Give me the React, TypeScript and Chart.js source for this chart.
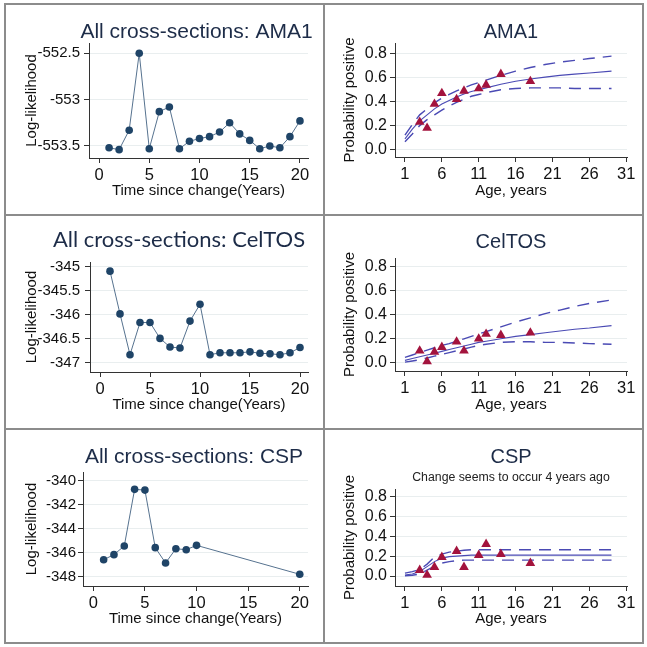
import React, { useEffect, useRef } from "react";
import { Chart, registerables } from "chart.js";
Chart.register(...registerables);

// ---------- Log-likelihood profiles (left column) ----------
const YEARS_ALL = [1, 2, 3, 4, 5, 6, 7, 8, 9, 10, 11, 12, 13, 14, 15, 16, 17, 18, 19, 20];
const LL_AMA1 = [-553.52, -553.54, -553.33, -552.5, -553.53, -553.13, -553.08, -553.53, -553.45, -553.42, -553.4, -553.35, -553.25, -553.37, -553.44, -553.53, -553.5, -553.52, -553.4, -553.23];
const LL_CELTOS = [-345.09, -345.98, -346.83, -346.16, -346.16, -346.49, -346.67, -346.69, -346.13, -345.78, -346.83, -346.79, -346.79, -346.79, -346.77, -346.8, -346.81, -346.83, -346.79, -346.68];
const YEARS_CSP = [1, 2, 3, 4, 5, 6, 7, 8, 9, 10, 20];
const LL_CSP = [-346.57, -346.15, -345.43, -340.74, -340.8, -345.57, -346.84, -345.66, -345.74, -345.38, -347.78];
const LL_TICKS_AMA1 = [-553.5, -553, -552.5];
const LL_TICKS_CELTOS = [-347, -346.5, -346, -345.5, -345];
const LL_TICKS_CSP = [-348, -346, -344, -342, -340];
const YEAR_TICKS = [0, 5, 10, 15, 20];

// ---------- Seroprevalence by age (right column) ----------
const AGE_OBS = [3, 4, 5, 6, 8, 9, 11, 12, 14, 18];
const OBS_AMA1 = [0.23, 0.18, 0.38, 0.47, 0.42, 0.49, 0.51, 0.54, 0.63, 0.57];
const OBS_CELTOS = [0.1, 0.01, 0.09, 0.13, 0.175, 0.1, 0.2, 0.24, 0.23, 0.25];
const OBS_CSP = [0.06, 0.01, 0.09, 0.19, 0.25, 0.09, 0.21, 0.32, 0.22, 0.13];

const AGE_FIT = [1, 2, 3, 4, 5, 6, 7, 8, 9, 10, 11, 12, 14, 16, 18, 20, 22, 24, 26, 29];
const FIT_AMA1 = [0.09, 0.17, 0.24, 0.29, 0.34, 0.38, 0.41, 0.44, 0.465, 0.485, 0.5, 0.515, 0.545, 0.57, 0.59, 0.605, 0.62, 0.63, 0.64, 0.655];
const UP_AMA1 = [0.12, 0.21, 0.29, 0.34, 0.39, 0.43, 0.46, 0.49, 0.515, 0.54, 0.56, 0.58, 0.62, 0.655, 0.685, 0.71, 0.73, 0.745, 0.76, 0.78];
const LO_AMA1 = [0.065, 0.13, 0.2, 0.25, 0.29, 0.33, 0.365, 0.395, 0.42, 0.445, 0.46, 0.475, 0.5, 0.51, 0.515, 0.515, 0.515, 0.51, 0.51, 0.51];

const FIT_CELTOS = [0.02, 0.035, 0.05, 0.065, 0.08, 0.095, 0.11, 0.125, 0.14, 0.155, 0.17, 0.18, 0.2, 0.22, 0.235, 0.25, 0.265, 0.28, 0.29, 0.31];
const UP_CELTOS = [0.045, 0.065, 0.085, 0.105, 0.125, 0.145, 0.16, 0.18, 0.2, 0.22, 0.24, 0.26, 0.3, 0.34, 0.375, 0.41, 0.44, 0.47, 0.495, 0.525];
const LO_CELTOS = [0.005, 0.015, 0.025, 0.04, 0.055, 0.07, 0.085, 0.1, 0.115, 0.13, 0.145, 0.155, 0.17, 0.175, 0.175, 0.17, 0.17, 0.165, 0.16, 0.155];

const FIT_CSP = [0.01, 0.02, 0.045, 0.095, 0.145, 0.18, 0.195, 0.2, 0.205, 0.21, 0.21, 0.21, 0.21, 0.21, 0.21, 0.21, 0.21, 0.21, 0.21, 0.21];
const UP_CSP = [0.03, 0.045, 0.065, 0.12, 0.19, 0.22, 0.24, 0.25, 0.26, 0.265, 0.265, 0.265, 0.265, 0.265, 0.265, 0.265, 0.265, 0.265, 0.265, 0.265];
const LO_CSP = [0.003, 0.008, 0.02, 0.06, 0.1, 0.13, 0.145, 0.155, 0.16, 0.16, 0.16, 0.16, 0.16, 0.16, 0.16, 0.16, 0.16, 0.16, 0.16, 0.16];

const PROB_TICKS = [0, 0.2, 0.4, 0.6, 0.8];
const AGE_TICKS = [1, 6, 11, 16, 21, 26, 31];

// ---------- styles ----------
const FONT = "'Liberation Sans', Arial, sans-serif";
const TITLE_COLOR = "#1d2c48";
const AXIS = "#333333";
const GRID = "#e9eeef";
const NAVY = "#1f4467";
const LL_LINE = "#56728f";
const MAROON = "#a3133d";
const BLUE = "#4a4ab4";

const pts = (xs: number[], ys: number[]) => xs.map((x, i) => ({ x, y: ys[i] }));

const llDatasets = (xs: number[], ys: number[]) => [
  {
    data: pts(xs, ys),
    showLine: true,
    borderColor: LL_LINE,
    borderWidth: 1,
    pointRadius: 3.8,
    pointBackgroundColor: NAVY,
    pointBorderColor: NAVY,
    pointBorderWidth: 0,
  },
];

const probDatasets = (obs: number[], fit: number[], up: number[], lo: number[]) => [
  {
    data: pts(AGE_OBS, obs),
    showLine: false,
    pointStyle: "triangle",
    pointRadius: 5.6,
    pointBackgroundColor: MAROON,
    pointBorderColor: MAROON,
    pointBorderWidth: 0,
  },
  { data: pts(AGE_FIT, fit), showLine: true, borderColor: BLUE, borderWidth: 1.1, pointRadius: 0 },
  { data: pts(AGE_FIT, up), showLine: true, borderColor: BLUE, borderWidth: 1.4, borderDash: [12, 8], pointRadius: 0 },
  { data: pts(AGE_FIT, lo), showLine: true, borderColor: BLUE, borderWidth: 1.4, borderDash: [12, 8], pointRadius: 0 },
];

type Spec = {
  x: number; y: number; w: number; h: number;
  title: string; titleFamily: string; titleSize: number; titleX?: number; titleY: number;
  subtitle?: string; subY?: number; subSize?: number;
  padTop: number; padRight: number; yWidth: number; xHeight: number;
  xMin: number; xMax: number; xTicks: number[];
  yMin: number; yMax: number; yTicks: number[]; yFmt: (v: number) => string;
  yTickSize: number; yTickPad: number; yTitle: string; yTitlePad: number;
  xTitle: string; datasets: any[];
};

function Panel({ s }: { s: Spec }) {
  const ref = useRef<HTMLCanvasElement>(null);
  useEffect(() => {
    const titlePlugin = {
      id: "panelTitle",
      afterDraw(chart: any) {
        const ctx = chart.ctx;
        const ca = chart.chartArea;
        ctx.save();
        ctx.fillStyle = TITLE_COLOR;
        ctx.textAlign = "center";
        ctx.textBaseline = "middle";
        ctx.font = `${s.titleSize}px ${s.titleFamily}`;
        const cx = s.titleX ?? (ca.left + ca.right) / 2;
        ctx.fillText(s.title, cx, s.titleY);
        if (s.subtitle) {
          ctx.fillStyle = "#222";
          ctx.font = `${s.subSize}px ${FONT}`;
          ctx.fillText(s.subtitle, (ca.left + ca.right) / 2, s.subY);
        }
        ctx.restore();
      },
    };
    const chart = new Chart(ref.current as HTMLCanvasElement, {
      type: "scatter",
      data: { datasets: s.datasets },
      options: {
        animation: false,
        responsive: false,
        devicePixelRatio: 1,
        layout: { padding: { top: s.padTop, right: s.padRight, left: 0, bottom: 0 } },
        plugins: { legend: { display: false }, tooltip: { enabled: false }, title: { display: false } },
        scales: {
          x: {
            type: "linear",
            min: s.xMin,
            max: s.xMax,
            afterBuildTicks: (sc: any) => { sc.ticks = s.xTicks.map((v) => ({ value: v })); },
            afterFit: (sc: any) => { sc.height = s.xHeight; },
            grid: { drawOnChartArea: false, drawTicks: true, tickLength: 5, tickColor: AXIS },
            border: { display: true, color: AXIS, width: 1 },
            ticks: { font: { family: FONT, size: 16.5 }, color: "#111", padding: 3, maxRotation: 0, autoSkip: false, callback: (v: any) => String(v) },
            title: { display: true, text: s.xTitle, font: { family: FONT, size: 15 }, color: "#111", padding: { top: 0, bottom: 14.5 } },
          },
          y: {
            type: "linear",
            min: s.yMin,
            max: s.yMax,
            afterBuildTicks: (sc: any) => { sc.ticks = s.yTicks.map((v) => ({ value: v })); },
            afterFit: (sc: any) => { sc.width = s.yWidth; },
            grid: { color: GRID, lineWidth: 1, drawTicks: true, tickLength: 5, tickColor: AXIS },
            border: { display: true, color: AXIS, width: 1 },
            ticks: { font: { family: FONT, size: s.yTickSize }, color: "#111", padding: s.yTickPad, autoSkip: false, callback: (v: any) => s.yFmt(Number(v)) },
            title: { display: true, text: s.yTitle, font: { family: FONT, size: 15 }, color: "#111", padding: { top: s.yTitlePad, bottom: 0 } },
          },
        },
      } as any,
      plugins: [titlePlugin],
    });
    return () => chart.destroy();
  }, []);
  return (
    <canvas
      ref={ref}
      width={s.w}
      height={s.h}
      style={{ position: "absolute", left: s.x, top: s.y, width: s.w, height: s.h }}
    />
  );
}

const llFmt = (v: number) => String(v);
const pFmt = (v: number) => v.toFixed(1);

const SPECS: Spec[] = [
  {
    x: 6, y: 5, w: 317, h: 209,
    title: "All cross-sections: AMA1", titleFamily: FONT, titleSize: 21, titleX: 190.5, titleY: 27,
    padTop: 38, padRight: 15, yWidth: 83, xHeight: 56,
    xMin: -1, xMax: 20.8, xTicks: YEAR_TICKS,
    yMin: -553.63, yMax: -552.39, yTicks: LL_TICKS_AMA1, yFmt: llFmt,
    yTickSize: 15, yTickPad: 4, yTitle: "Log-likelihood", yTitlePad: 17,
    xTitle: "Time since change(Years)", datasets: llDatasets(YEARS_ALL, LL_AMA1),
  },
  {
    x: 325, y: 5, w: 317, h: 209,
    title: "AMA1", titleFamily: FONT, titleSize: 20, titleY: 27,
    padTop: 38, padRight: 15, yWidth: 70, xHeight: 57,
    xMin: -0.35, xMax: 31.1, xTicks: AGE_TICKS,
    yMin: -0.062, yMax: 0.89, yTicks: PROB_TICKS, yFmt: pFmt,
    yTickSize: 16, yTickPad: 3, yTitle: "Probability positive", yTitlePad: 16,
    xTitle: "Age, years", datasets: probDatasets(OBS_AMA1, FIT_AMA1, UP_AMA1, LO_AMA1),
  },
  {
    x: 6, y: 216, w: 317, h: 212,
    title: "All cross-sections: CelTOS", titleFamily: "Lato, 'Open Sans', sans-serif", titleSize: 22, titleX: 173, titleY: 24,
    padTop: 46, padRight: 15, yWidth: 84, xHeight: 56,
    xMin: -1, xMax: 20.8, xTicks: YEAR_TICKS,
    yMin: -347.19, yMax: -344.9, yTicks: LL_TICKS_CELTOS, yFmt: llFmt,
    yTickSize: 15, yTickPad: 5, yTitle: "Log-likelihood", yTitlePad: 16.5,
    xTitle: "Time since change(Years)", datasets: llDatasets(YEARS_ALL, LL_CELTOS),
  },
  {
    x: 325, y: 216, w: 317, h: 212,
    title: "CelTOS", titleFamily: FONT, titleSize: 20, titleY: 26,
    padTop: 42, padRight: 15, yWidth: 70, xHeight: 57,
    xMin: -0.35, xMax: 31.1, xTicks: AGE_TICKS,
    yMin: -0.069, yMax: 0.875, yTicks: PROB_TICKS, yFmt: pFmt,
    yTickSize: 16, yTickPad: 3, yTitle: "Probability positive", yTitlePad: 16,
    xTitle: "Age, years", datasets: probDatasets(OBS_CELTOS, FIT_CELTOS, UP_CELTOS, LO_CELTOS),
  },
  {
    x: 6, y: 430, w: 317, h: 212,
    title: "All cross-sections: CSP", titleFamily: FONT, titleSize: 21, titleX: 188, titleY: 27,
    padTop: 42, padRight: 15, yWidth: 77, xHeight: 56,
    xMin: -1, xMax: 20.8, xTicks: YEAR_TICKS,
    yMin: -348.75, yMax: -339.3, yTicks: LL_TICKS_CSP, yFmt: llFmt,
    yTickSize: 15, yTickPad: 2, yTitle: "Log-likelihood", yTitlePad: 16.5,
    xTitle: "Time since change(Years)", datasets: llDatasets(YEARS_CSP, LL_CSP),
  },
  {
    x: 325, y: 430, w: 317, h: 212,
    title: "CSP", titleFamily: FONT, titleSize: 20, titleY: 27,
    subtitle: "Change seems to occur 4 years ago", subY: 48, subSize: 12.3,
    padTop: 59, padRight: 15, yWidth: 70, xHeight: 56,
    xMin: -0.35, xMax: 31.1, xTicks: AGE_TICKS,
    yMin: -0.1, yMax: 0.875, yTicks: PROB_TICKS, yFmt: pFmt,
    yTickSize: 16, yTickPad: 3, yTitle: "Probability positive", yTitlePad: 16,
    xTitle: "Age, years", datasets: probDatasets(OBS_CSP, FIT_CSP, UP_CSP, LO_CSP),
  },
];

const LINE = "#8c8c8c";

export default function App() {
  return (
    <div style={{ position: "fixed", left: 0, top: 0, width: 647, height: 647, background: "#fff", overflow: "hidden" }}>
      <div style={{ position: "absolute", left: 4, top: 3, width: 640, height: 641, border: `2px solid ${LINE}`, boxSizing: "border-box" }} />
      <div style={{ position: "absolute", left: 323, top: 3, width: 2, height: 641, background: LINE }} />
      <div style={{ position: "absolute", left: 4, top: 214, width: 640, height: 2, background: LINE }} />
      <div style={{ position: "absolute", left: 4, top: 428, width: 640, height: 2, background: LINE }} />
      {SPECS.map((s, i) => (
        <Panel key={i} s={s} />
      ))}
    </div>
  );
}
